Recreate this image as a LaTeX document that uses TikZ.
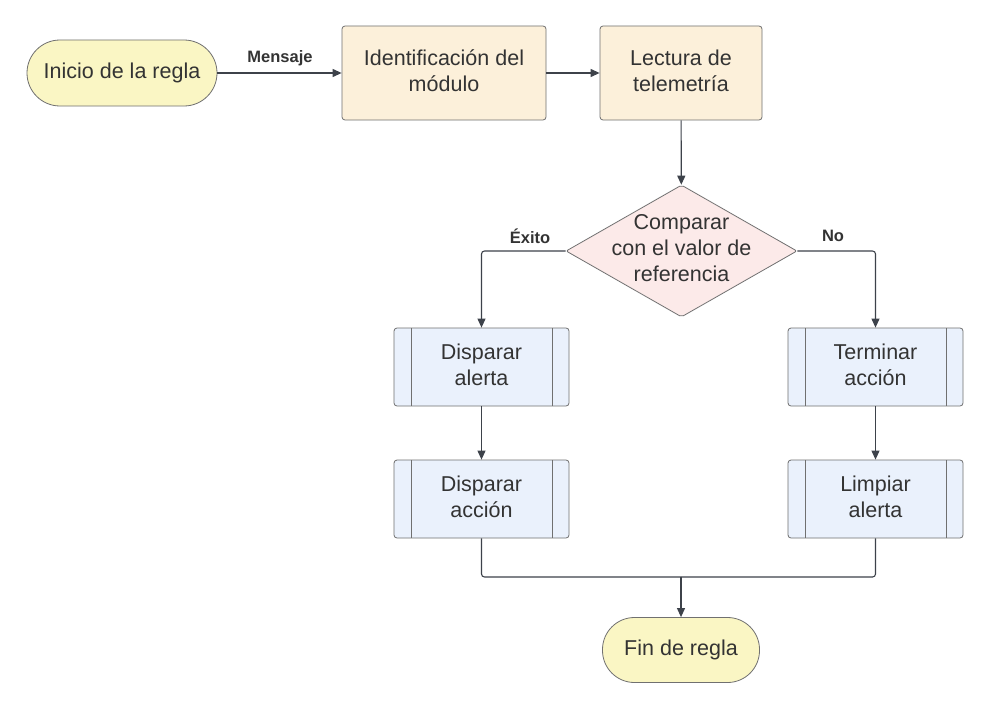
\documentclass[tikz,border=0pt]{standalone}
\usepackage{fontspec}
\setmainfont{Liberation Sans}
\usetikzlibrary{shapes.geometric,arrows.meta}
\definecolor{txt}{HTML}{333333}
\definecolor{edge}{HTML}{3D424A}
\definecolor{bord}{HTML}{707070}
\definecolor{yel}{HTML}{FAF6C4}
\definecolor{ora}{HTML}{FCF0DA}
\definecolor{pnk}{HTML}{FCEAE9}
\definecolor{blu}{HTML}{EAF1FC}
\tikzset{
  base/.style={draw=bord, line width=0.8pt, text=txt, inner sep=0pt, align=center,
    font=\fontsize{21.5}{26}\selectfont},
  term/.style={base, fill=yel, rounded corners=33pt},
  procbox/.style={base, fill=ora, rounded corners=3pt, minimum width=204pt, minimum height=94pt, text depth=4pt},
  lecbox/.style={base, fill=ora, rounded corners=3pt, minimum width=162pt, minimum height=94pt, text depth=4pt},
  decis/.style={draw=bord, line width=0.8pt, fill=pnk, diamond, inner sep=0pt,
    minimum width=231pt, minimum height=132pt, rounded corners=2pt},
  predef/.style={base, fill=blu, rounded corners=3pt, minimum width=175pt, minimum height=78pt, text depth=4pt,
    path picture={
      \draw[bord, line width=0.8pt] ([xshift=17pt]path picture bounding box.north west) -- ([xshift=17pt]path picture bounding box.south west);
      \draw[bord, line width=0.8pt] ([xshift=-17pt]path picture bounding box.north east) -- ([xshift=-17pt]path picture bounding box.south east);
    }},
  conn/.style={draw=edge, line width=1.1pt, rounded corners=3pt},
  arr/.style={conn, -{Triangle[length=9pt,width=8pt]}},
  elabel/.style={text=txt, font=\fontsize{16.5}{20}\selectfont\bfseries, inner sep=0pt},
}
\begin{document}
\begin{tikzpicture}[x=1pt,y=-1pt]
\useasboundingbox (0,0) rectangle (990,709);
\fill[white] (0,0) rectangle (990,709);

\node[term, minimum width=190pt, minimum height=66pt] (start) at (122,73) {Inicio de la regla};
\node[procbox] (ident) at (444,73) {Identificación del\\módulo};
\node[lecbox] (lect) at (681,73) {Lectura de\\telemetría};
\node[decis] (dia) at (681.5,251) {};
\node[base, draw=none] (diat) at (681.5,248) {Comparar\\con el valor de\\referencia};
\node[predef] (dala) at (481.5,367) {Disparar\\alerta};
\node[predef] (dacc) at (481.5,499) {Disparar\\acción};
\node[predef] (tacc) at (875.5,367) {Terminar\\acción};
\node[predef] (lale) at (875.5,499) {Limpiar\\alerta};
\node[term, minimum width=157pt, minimum height=65pt, rounded corners=32pt] (fin) at (681,650) {Fin de regla};

\coordinate (merge) at (681,577);

\draw[arr] (start) -- (ident);
\node[elabel] (lmen) at (280,58) {Mensaje};
\draw[arr] (ident) -- (lect);
\draw[arr] (lect) -- (dia);
\draw[arr] (dia.west) -| (dala.north);
\node[elabel] (lexi) at (530,236) {Éxito};
\draw[arr] (dia.east) -| (tacc.north);
\node[elabel] (lno) at (833,236) {No};
\draw[arr] (dala) -- (dacc);
\draw[arr] (tacc) -- (lale);
\draw[conn] (dacc.south) |- (merge);
\draw[conn] (lale.south) |- (merge);
\draw[arr] (merge) -- (fin);
\end{tikzpicture}
\end{document}
